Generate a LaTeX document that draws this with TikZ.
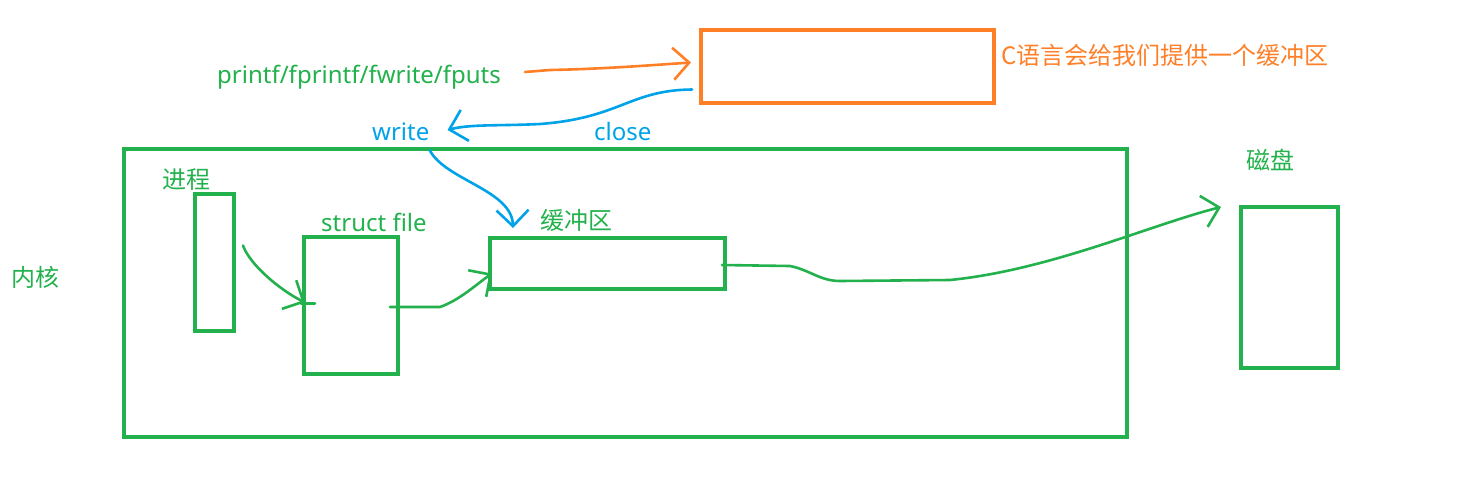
\documentclass[tikz,border=0pt]{standalone}
\usepackage{fontspec}
\setmainfont{Noto Sans}
\newfontfamily\cjk{Noto Sans CJK SC}
\usetikzlibrary{arrows.meta,calc}
\definecolor{pgreen}{HTML}{22B14C}
\definecolor{porange}{HTML}{FF7F27}
\definecolor{pblue}{HTML}{00A2E8}
\begin{document}
\begin{tikzpicture}[x=1pt,y=-1pt,
  gbox/.style={draw=pgreen,line width=4pt,inner sep=0pt,outer sep=0pt},
  obox/.style={draw=porange,line width=4pt,inner sep=0pt,outer sep=0pt},
  lat/.style={font=\fontsize{24}{28}\selectfont,inner sep=0pt,anchor=base west},
  han/.style={font=\cjk\fontsize{24}{28}\selectfont,inner sep=0pt,anchor=west},
  pen/.style={line width=2.6pt,line cap=round,line join=round},
  barb/.style={-{Straight Barb[length=16pt,width=32pt,line width=2.6pt]}},
  gpen/.style={pen,draw=pgreen},
  open/.style={pen,draw=porange},
  bpen/.style={pen,draw=pblue}]
\useasboundingbox (0,0) rectangle (1479,488);
% boxes
\node[gbox,minimum width=1003pt,minimum height=288pt] (kernel) at (625.5,293) {};
\node[obox,minimum width=293pt,minimum height=73pt] (cbuf) at (847.5,66.5) {};
\node[gbox,minimum width=39pt,minimum height=137pt] (proc) at (214.5,262.5) {};
\node[gbox,minimum width=94pt,minimum height=137pt] (sf) at (351,305.5) {};
\node[gbox,minimum width=235pt,minimum height=51pt] (buf) at (607.5,263.5) {};
\node[gbox,minimum width=97pt,minimum height=161pt] (disk) at (1289.5,287.5) {};
% texts
\node[lat,text=pgreen] (fn) at (217,83) {printf/fprintf/fwrite/fputs};
\node[han,text=porange] (ctext) at (1001,55) {C语言会给我们提供一个缓冲区};
\node[lat,text=pblue] (write) at (372,140) {write};
\node[lat,text=pblue] (close) at (594,140) {close};
\node[han,text=pgreen] (proclab) at (162,180) {进程};
\node[lat,text=pgreen] (sflab) at (321,231) {struct file};
\node[han,text=pgreen] (buflab) at (540,220) {缓冲区};
\node[han,text=pgreen] (disklab) at (1246,160) {磁盘};
\node[han,text=pgreen] (kernlab) at (11,277) {内核};
% connectors
\draw[open,barb] (525,72) -- ++(25,-2)
  .. controls (600,69) and (640,66) .. ($(cbuf.west)+(-10,-4)$);
\draw[bpen,barb] ($(cbuf.west)+(-9,23)$) .. controls (630,90) and (620,118) .. (540,124)
  .. controls (500,126) and (470,124) .. ($(write.base east)+(18,-10)$);
\draw[bpen,barb] ($(write.base east)+(0,10)$) .. controls (445,180) and (512,190) .. ($(buf.north west)+(23,-10)$);
\draw[gpen,barb] ($(proc.east)+(9,-17)$) .. controls (250,265) and (280,290) .. ($(sf.west)+(1,-3)$);
\draw[gpen] ($(sf.west)+(-3,-2)$) -- ++(14,0);
\draw[gpen,barb] ($(sf.east)+(-8,1.5)$) -- ++(50,0) .. controls (460,300) and (478,283) .. ($(buf.west)+(2,10)$);
\draw[gpen,barb] ($(buf.east)+(-3,1.5)$) -- ++(68,1) .. controls (810,270) and (820,281) .. (840,281)
  -- (950,280) .. controls (1050,270) and (1150,225) .. ($(disk.north west)+(-20,0)$);
\end{tikzpicture}
\end{document}
